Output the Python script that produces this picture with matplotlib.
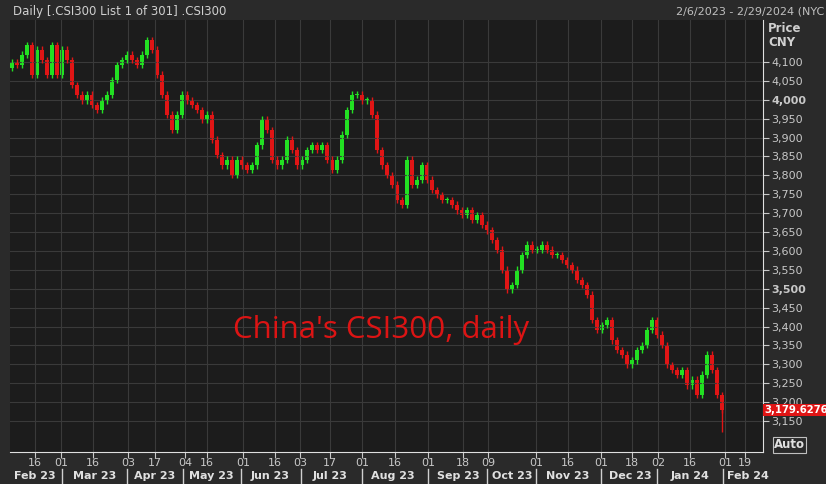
import matplotlib
matplotlib.use("Agg")
import matplotlib.pyplot as plt

closes = [4100,4092,4119,4145,4066,4132,4105,4066,4145,4066,4132,4105,4039,4013,3999,4013,3986,3973,3999,4013,
4052,4092,4105,4119,4105,4092,4119,4158,4132,4066,4013,3960,3920,3960,4013,3999,3986,3973,3947,3960,
3894,3854,3827,3841,3801,3841,3827,3814,3827,3880,3947,3920,3841,3827,3841,3894,3867,3827,3841,3867,
3880,3867,3880,3841,3814,3841,3907,3973,4013,4013,3999,3999,3960,3867,3827,3801,3775,3735,3722,3841,
3775,3788,3827,3788,3761,3748,3735,3735,3722,3708,3695,3708,3682,3695,3669,3655,3629,3603,3550,3497,
3510,3550,3589,3616,3603,3603,3616,3603,3589,3589,3576,3563,3550,3523,3510,3484,3417,3391,3404,3417,
3364,3338,3325,3298,3311,3338,3351,3391,3417,3378,3351,3298,3285,3272,3285,3245,3259,3219,3272,3325,
3285,3219,3180]
first_open = 4085
opens = [first_open] + closes[:-1]

day_labels = ["16","01","16","03","17","04","16","01","16","03","17","01","16","01","18","09","01","16","01","18","02","16","01","19"]
day_pos_px = [35,61,93,128,155,185,207,243,275,300,330,362,395,428,463,488,536,568,601,632,658,690,725,745]
month_labels = ["Feb 23","Mar 23","Apr 23","May 23","Jun 23","Jul 23","Aug 23","Sep 23","Oct 23","Nov 23","Dec 23","Jan 24","Feb 24"]
month_pos_px = [35,95,155,211,270,330,393,458,512,568,630,690,748]
sep_px = [62,127,183,241,301,362,428,487,536,601,657,723]
yticks = list(range(3150, 4101, 50))

W, H = 826, 484
fig = plt.figure(figsize=(W/100, H/100), dpi=100, facecolor="#2a2a2a")
L, R, T, B = 10, 763, 20, 452
ax = fig.add_axes([L/W, 1-B/H, (R-L)/W, (B-T)/H], facecolor="#1c1c1c")

def px2i(x):
    return (x - 12) / 5.0

n = len(closes)
for i in range(n):
    o, c = opens[i], closes[i]
    col = "#22e022" if c >= o else "#e01515"
    hi = max(o, c) + 9
    lo = min(o, c) - 9
    ax.vlines(i, lo, hi, color=col, lw=1)
    ax.bar(i, max(abs(c - o), 3), bottom=min(o, c), width=0.7, color=col, linewidth=0)
ax.vlines(n - 1, 3120, 3200, color="#e01515", lw=1)

ax.set_xlim(px2i(L), px2i(R))
ax.set_ylim(3068, 4211)
ax.yaxis.tick_right()
ax.set_yticks(yticks)
ax.set_yticklabels([f"{v:,}" for v in yticks], color="#c8c8c8", fontsize=8)
for lab, v in zip(ax.get_yticklabels(), yticks):
    if v in (4000, 3500):
        lab.set_fontweight("bold"); lab.set_color("#ffffff")
ax.tick_params(axis="y", colors="#c8c8c8", length=4, pad=2)
ax.set_xticks([px2i(x) for x in day_pos_px])
ax.set_xticklabels(day_labels, color="#c8c8c8", fontsize=8)
ax.tick_params(axis="x", colors="#c8c8c8", length=4, pad=0)
ax.grid(True, color="#3a3a3a", lw=0.8)
for s in ax.spines.values():
    s.set_visible(False)
ax.spines["right"].set_visible(True); ax.spines["right"].set_color("#e0e0e0")
ax.spines["bottom"].set_visible(True); ax.spines["bottom"].set_color("#e0e0e0")

ax.text((233 - L)/(R - L), 0.265, "China's CSI300, daily", transform=ax.transAxes,
        color="#dc1414", fontsize=22.5, family="Open Sans")
ax.text(1.002, (3179.6276-3068)/(4211-3068), "3,179.6276", transform=ax.transAxes, color="#ffffff",
        fontsize=7.3, fontweight="bold", va="center", ha="left",
        bbox=dict(boxstyle="square,pad=0.12", fc="#e01515", ec="none"), clip_on=False)

fig.text(13/W, 1-11/H, "Daily [.CSI300 List 1 of 301] .CSI300", color="#d0d0d0", fontsize=8.5, va="center")
fig.text(824/W, 1-11/H, "2/6/2023 - 2/29/2024 (NYC", color="#c0c0c0", fontsize=8, va="center", ha="right")
fig.text(768/W, 1-28/H, "Price", color="#d0d0d0", fontsize=8.5, va="center", fontweight="bold")
fig.text(768/W, 1-42/H, "CNY", color="#d0d0d0", fontsize=8.5, va="center", fontweight="bold")
fig.text(774/W, 1-445/H, "Auto", color="#e0e0e0", fontsize=8.5, va="center", fontweight="bold",
         bbox=dict(boxstyle="square,pad=0.1", fc="none", ec="#c0c0c0", lw=0.8))
for lab, x in zip(month_labels, month_pos_px):
    fig.text(x/W, 1-476/H, lab, color="#e0e0e0", fontsize=8, fontweight="bold", ha="center", va="center")
for x in sep_px:
    fig.add_artist(plt.Line2D([x/W, x/W], [1-469/H, 1-483/H], color="#d0d0d0", lw=1))

fig.savefig("out.png", dpi=100, facecolor=fig.get_facecolor())
